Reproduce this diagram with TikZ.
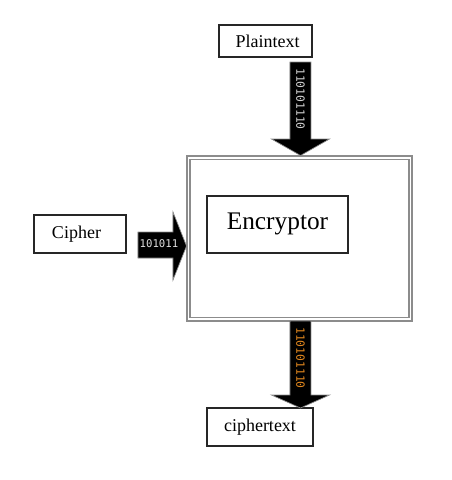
\documentclass[tikz,border=0pt]{standalone}
\usepackage{fontspec}
\setmainfont{Liberation Serif}
\setmonofont{DejaVu Sans Mono}
\begin{document}
\begin{tikzpicture}[x=0.75pt,y=-0.75pt,
  box/.style={draw=black!85,line width=1.1pt,fill=white,inner sep=0pt,font=\fontsize{13.5}{15}\selectfont},
  blockarrow/.style={fill=black,draw=black!45,line width=0.5pt,line join=miter},
  bits/.style={font=\ttfamily\fontsize{8.5}{9}\selectfont,inner sep=0pt}]
\useasboundingbox (0,0) rectangle (452,480);
% outer double frame
\node[draw=black!45,line width=0.8pt,minimum width=168.75pt,minimum height=123.75pt,inner sep=0pt] (outer) at (299.5,238.5) {};
\node[draw=black!45,line width=0.8pt,minimum width=164.25pt,minimum height=118.5pt,inner sep=0pt] (inner) at (299.5,238.5) {};
% boxes
\node[box,minimum width=69.75pt,minimum height=24pt,text width=62pt,align=center] (plain) at (265.5,41) {\hspace*{3pt}Plaintext};
\node[box,minimum width=69pt,minimum height=28.5pt,text width=60pt,align=left] (cipher) at (80,234) {\hspace*{9pt}Cipher};
\node[box,minimum width=105.75pt,minimum height=42.75pt,font=\fontsize{19}{21}\selectfont] (enc) at (277.5,224.5) {\raisebox{5pt}{Encryptor}};
\node[box,minimum width=79.5pt,minimum height=28.5pt] (ct) at (260,427) {ciphertext};
% top block arrow
\draw[blockarrow] (290,62) -- (311,62) -- (311,139) -- (329.5,139) -- (300.5,155.5) -- (271.5,139) -- (290,139) -- cycle;
\node[bits,text=black!18,rotate=-90] (tbits) at (300.5,99) {110101110};
% bottom block arrow
\draw[blockarrow] (290,321) -- (311,321) -- (311,395) -- (329.5,395) -- (300.5,408) -- (271.5,395) -- (290,395) -- cycle;
\node[bits,text={rgb,255:red,225;green,135;blue,30},rotate=-90] (bbits) at (300.5,358) {110101110};
% left block arrow
\draw[blockarrow] (138,232) -- (173,232) -- (173,212) -- (186.5,246) -- (173,280) -- (173,258) -- (138,258) -- cycle;
\node[bits,text=black!12,font=\ttfamily\fontsize{8}{9}\selectfont] (lbits) at (159,244) {101011};
\end{tikzpicture}
\end{document}
